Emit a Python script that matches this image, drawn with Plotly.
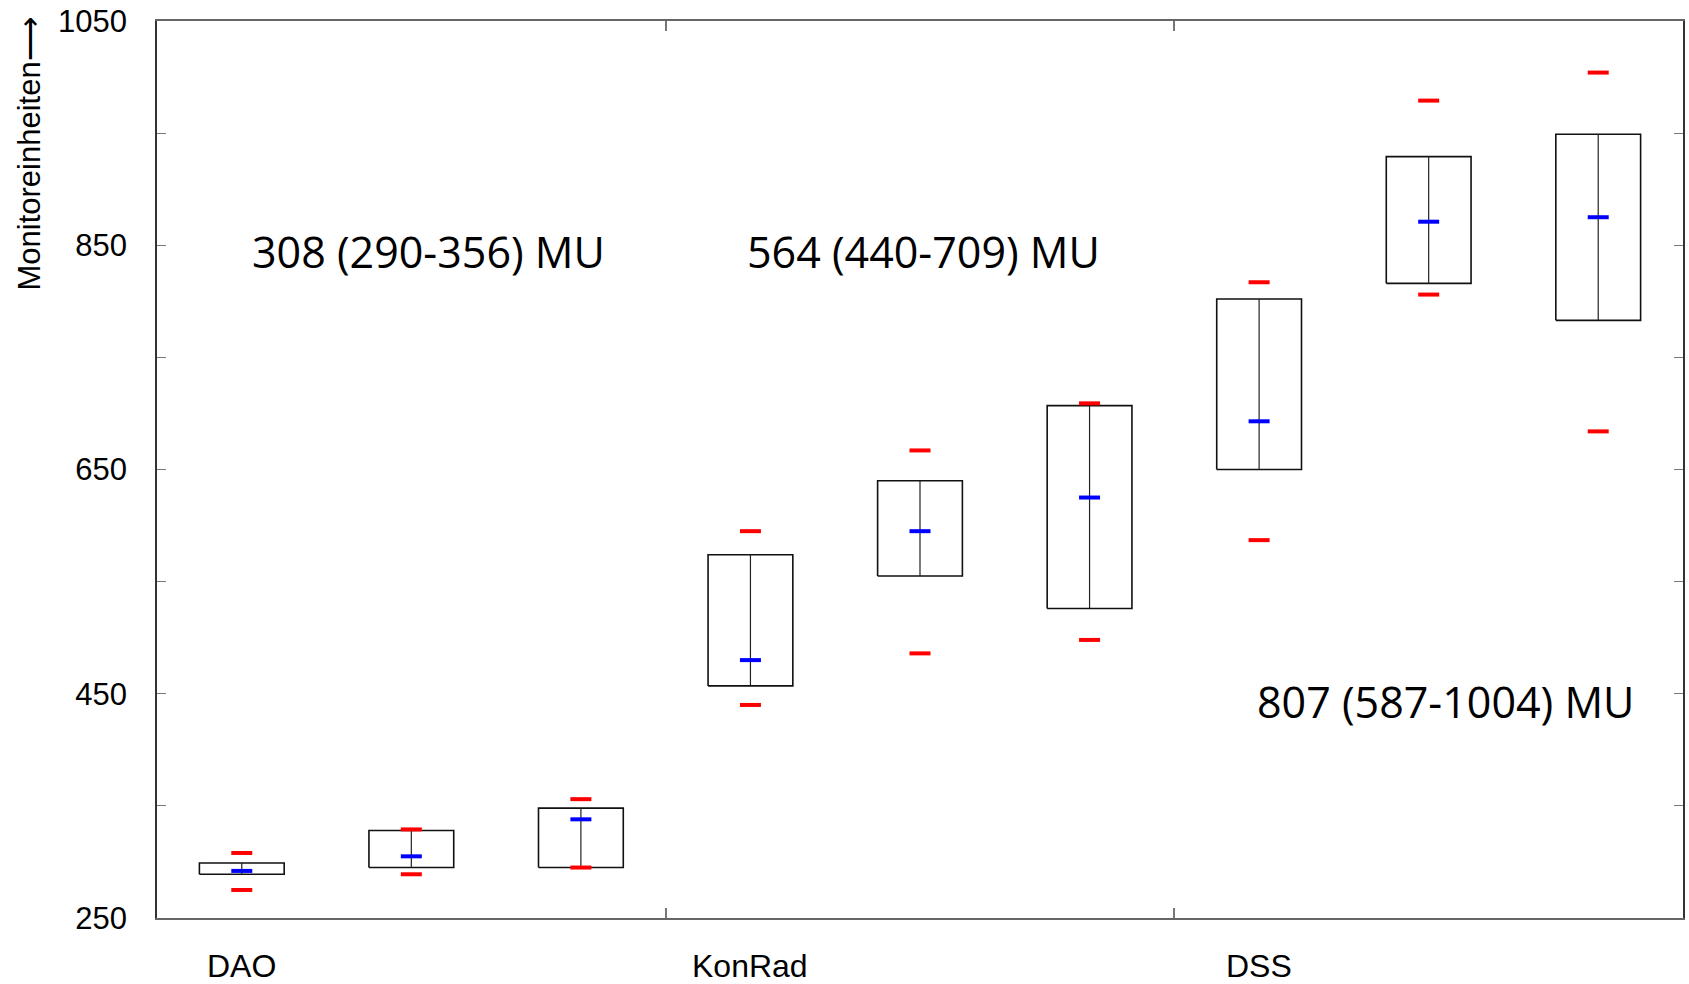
import plotly.graph_objects as go

# ---- data ----
group_labels = ["DAO", "KonRad", "DSS"]
group_positions = [0, 3, 6]
positions = [0, 1, 2, 3, 4, 5, 6, 7, 8]
q1 = [289, 295, 295, 457, 555, 526, 650, 816, 783]
q3 = [299, 328, 348, 574, 640, 707, 802, 929, 949]
median = [292, 305, 338, 480, 595, 625, 693, 871, 875]
maximum = [308, 329, 356, 595, 667, 709, 817, 979, 1004]
minimum = [275, 289, 295, 440, 486, 498, 587, 806, 684]
summary_texts = ["308 (290-356) MU", "564 (440-709) MU", "807 (587-1004) MU"]
summary_x = [1.10, 4.02, 7.10]
summary_y = [844, 844, 443]
y_tickvals = [250, 350, 450, 550, 650, 750, 850, 950, 1050]
y_ticktext = ["250", "", "450", "", "650", "", "850", "", "1050"]
group_separators = [2.5, 5.5]

half_w = 0.25

bx, by = [], []
for p, lo, hi in zip(positions, q1, q3):
    bx += [p - half_w, p + half_w, p + half_w, p - half_w, p - half_w, None]
    by += [lo, lo, hi, hi, lo, None]
vx, vy = [], []
for p, lo, hi in zip(positions, q1, q3):
    vx += [p, p, None]
    vy += [lo, hi, None]

fig = go.Figure()
fig.add_trace(go.Scatter(x=bx, y=by, mode="lines",
                         line=dict(color="#111111", width=1.6),
                         hoverinfo="skip", showlegend=False))
fig.add_trace(go.Scatter(x=vx, y=vy, mode="lines",
                         line=dict(color="#222222", width=1.2),
                         hoverinfo="skip", showlegend=False))
fig.add_trace(go.Scatter(x=positions + positions, y=maximum + minimum, mode="markers",
                         marker=dict(symbol="line-ew", size=15,
                                     line=dict(color="#ff0000", width=4)),
                         showlegend=False))
fig.add_trace(go.Scatter(x=positions, y=median, mode="markers",
                         marker=dict(symbol="line-ew", size=15,
                                     line=dict(color="#0000ff", width=4)),
                         showlegend=False))

for t, x, y in zip(summary_texts, summary_x, summary_y):
    fig.add_annotation(x=x, y=y, xref="x", yref="y", text=t, showarrow=False,
                       xanchor="center", yanchor="middle",
                       font=dict(family="Open Sans", size=43, color="black"))

for lab, x in zip(group_labels, group_positions):
    fig.add_annotation(x=x, y=-0.053, xref="paper" if False else "x", yref="paper", text=lab,
                       showarrow=False, xanchor="center", yanchor="middle",
                       font=dict(family="Liberation Sans, Arial", size=32, color="black"))

fig.add_annotation(x=0.0, y=1.0, xref="paper", yref="paper",
                   text="Monitoreinheiten⟶", textangle=-90, showarrow=False,
                   xanchor="center", yanchor="top", xshift=-128, yshift=5,
                   font=dict(family="Liberation Sans, Arial", size=31, color="black"))

fig.update_layout(
    width=1689, height=984,
    margin=dict(l=157, r=4, t=19, b=66),
    paper_bgcolor="white", plot_bgcolor="white",
    xaxis=dict(range=[-0.5, 8.5], tickvals=group_separators, showticklabels=False,
               ticks="inside", ticklen=10, tickcolor="#777777", tickwidth=1.5,
               showline=True, linecolor="#666666", linewidth=1.5, mirror="ticks",
               showgrid=False, zeroline=False),
    yaxis=dict(range=[250, 1050], tickvals=y_tickvals, ticktext=y_ticktext,
               ticks="inside", ticklen=9, tickcolor="#777777", tickwidth=1.2,
               showline=True, linecolor="#333333", linewidth=1.5, mirror="ticks",
               showgrid=False, zeroline=False, ticklabelstandoff=22,
               tickfont=dict(family="Liberation Sans, Arial", size=31, color="black")),
)

fig.write_html("out.html")
